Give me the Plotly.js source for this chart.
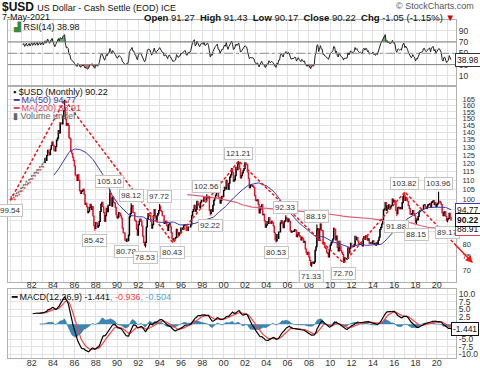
<!DOCTYPE html>
<html><head><meta charset="utf-8">
<script src="https://cdn.plot.ly/plotly-3.0.1.min.js"></script>
<style>html,body{margin:0;padding:0;background:#fff}#chart{width:480px;height:368px}</style>
</head><body><div id="chart"></div>
<script>
// ---------- DATA (monthly closes) ----------
const startYear = 1980;
const close1980s = [
 99.9,101.2,100.1,102.3,101.0,99.9,101.8,103.1,101.9,103.6,102.5,104.2,
 105.8,104.3,106.1,107.5,105.9,107.8,109.2,107.6,108.4,110.3,108.9,110.8,
 112.4,110.9,112.8,114.1,112.6,114.5,115.9,114.2,116.0,117.6,116.1,118.0,
 119.3,117.8,120.4,122.9,121.5,124.6,127.9,126.4,125.2,128.6,131.0,133.4,
 131.2,128.0,127.5,130.4,134.5,136.0,141.2,139.5,146.8,146.2,145.9,151.8,
 156.0,158.5,149.5,145.0,146.2,144.8,136.2,135.5,127.5,126.0,123.5,121.5,
 118.2,113.0,112.5,110.0,113.2,110.1,104.5,103.0,104.1,104.6,105.2,102.5,
 97.5,98.1,96.4,93.5,94.2,96.0,97.6,95.1,96.5,92.0,87.6,86.5,
 89.1,88.8,87.0,87.6,89.5,94.1,97.6,98.5,96.4,93.6,89.6,92.2,
 95.6,94.0,97.1,97.0,103.0,100.5,96.6,101.2,98.5,98.2,96.1,92.6];
const close1990s = [
 91.1,91.6,93.6,93.1,92.1,91.0,86.6,84.6,84.5,81.5,81.2,82.0,
 81.3,83.6,91.6,93.1,95.8,97.0,93.6,93.5,90.1,89.6,86.1,83.6,
 88.1,89.6,90.6,89.6,87.5,83.2,80.6,79.4,80.6,87.1,90.6,93.1,
 92.1,92.2,89.6,86.6,88.1,92.1,95.1,91.6,90.1,92.1,93.1,94.6,
 96.6,94.6,94.1,92.1,92.1,88.6,89.1,89.6,87.6,85.6,88.1,88.6,
 87.1,84.6,82.1,81.6,82.1,82.1,82.6,86.1,84.6,83.6,84.6,84.6,
 86.6,86.1,86.6,87.6,88.1,88.1,85.6,85.6,87.1,87.1,87.1,88.1,
 92.1,94.1,95.1,97.1,94.1,95.1,99.1,98.1,97.1,96.1,98.6,99.6,
 99.6,99.1,101.1,99.6,99.6,101.1,101.6,100.6,94.6,93.1,95.1,94.1,
 97.1,99.6,100.6,102.1,104.1,104.6,101.1,101.1,98.1,99.6,101.6,101.4];
const close2000s = [
 104.6,106.2,105.4,110.1,106.9,105.1,108.4,111.8,113.1,116.7,114.3,109.6,
 110.3,112.6,117.4,116.1,119.6,120.3,116.6,111.4,112.6,114.2,115.6,116.8,
 120.1,119.4,119.0,114.7,110.9,106.1,107.2,107.4,106.8,106.9,106.0,101.9,
 99.5,99.4,99.8,97.6,93.4,95.2,96.4,97.3,92.6,92.8,89.8,87.0,
 87.9,89.5,88.6,91.2,88.9,88.8,89.6,88.9,87.5,84.6,81.6,81.2,
 83.8,82.2,84.9,84.9,88.9,89.8,88.5,86.8,89.4,89.8,91.3,90.8,
 89.4,90.6,89.6,85.5,84.8,85.2,85.2,85.3,86.0,85.7,82.9,83.7,
 84.7,83.4,82.8,81.6,82.7,82.1,80.6,81.1,78.0,76.6,75.9,76.7,
 74.9,73.6,71.8,72.8,73.0,72.5,73.1,77.5,78.9,85.8,86.4,81.4,
 86.1,88.4,85.6,85.5,80.0,80.4,78.6,78.2,76.7,76.3,74.9,77.9];
const close2010s = [
 79.5,80.4,81.1,82.0,86.5,86.0,81.6,83.2,78.6,77.2,81.1,79.0,
 77.3,76.6,75.9,73.0,74.6,74.3,74.1,74.4,78.5,76.5,78.3,80.2,
 79.1,78.9,79.0,79.6,83.1,81.7,82.6,81.2,79.9,79.8,80.2,79.8,
 79.2,82.1,83.0,81.9,83.3,83.2,81.5,82.1,80.2,80.2,80.7,80.2,
 81.3,80.0,80.1,79.5,80.4,79.8,81.5,82.7,86.0,86.9,88.4,90.3,
 94.8,95.3,98.4,94.6,96.9,95.5,97.3,96.1,96.4,97.0,100.2,98.7,
 99.6,98.2,94.6,93.1,95.9,96.1,95.5,96.0,95.5,98.4,101.5,102.2,
 99.5,101.1,100.4,99.1,97.0,95.6,92.9,92.7,93.1,94.6,93.1,92.1,
 89.1,90.6,90.2,91.8,94.0,94.5,94.5,95.1,95.1,97.1,97.3,96.2,
 95.6,96.2,97.3,97.5,97.8,96.1,98.5,98.9,99.4,97.4,98.3,96.4];
const close2020s = [97.4,98.1,99.0,99.0,98.3,97.4,93.4,92.1,93.9,94.0,91.9,89.9,
 90.6,90.9,93.3,91.28,90.22];
const lastOpen = 91.27, lastHigh = 91.43, lastLow = 90.17;

// swing highs / lows labelled on the chart
const swingDates = ['1980-01','1985-02','1987-12','1989-05','1990-12','1991-05','1992-09','1994-01','1995-04',
  '1998-06','1998-10','2001-06','2004-12','2005-11','2008-04','2008-10','2011-04','2016-04','2017-01','2018-02','2020-03','2021-01'];
const swingVals = [99.54,164.72,85.42,105.10,80.78,98.12,78.53,97.72,80.43,
  102.56,92.22,121.21,80.53,92.33,71.33,88.19,72.70,91.88,103.82,88.15,103.96,89.17];
const swingSide = [-1,1,-1,1,-1,1,-1,1,-1, 1,-1,1,-1,1,-1,1,-1,-1,1,-1,1,-1];
const swingShow = [1,0,1,1,1,1,1,1,1, 1,1,1,1,1,1,1,1,1,1,1,1,1];

// red dashed zig-zag trend lines (last point = arrow head)
const trendDates = ['1980-01-01','1985-02-01','1995-04-01','2001-06-01','2011-04-01','2017-01-01','2023-05-20'];
const trendVals = [99.54,164.72,80.43,121.21,72.70,103.82,72.7];

const xTickYears = [1982,1984,1986,1988,1990,1992,1994,1996,1998,2000,2002,2004,2006,2008,2010,2012,2014,2016,2018,2020];
const priceTicks = [70,75,80,85,90,95,100,105,110,115,120,125,130,135,140,145,150,155,160,165];
const priceHidden = [85,90,95];           // labels covered by the value boxes
const rsiTicks = [10,30,50,70,90];
const macdTicks = [-10,-7.5,-5,-2.5,2.5,5,7.5,10];
const macdHidden = [-2.5];

// ---------- BUILD ----------
const closes = [].concat(close1980s, close1990s, close2000s, close2010s, close2020s);
const N = closes.length;
const dates = [];
for (let i = 0; i < N; i++) {
  const y = startYear + Math.floor(i / 12), m = i % 12 + 1;
  dates.push(y + '-' + String(m).padStart(2, '0') + '-01');
}
const idxOf = s => (parseInt(s.slice(0,4)) - startYear) * 12 + parseInt(s.slice(5,7)) - 1;
const opens = closes.map((c, i) => i === 0 ? c : closes[i - 1]);
opens[N - 1] = lastOpen;
const highs = closes.map((c, i) => Math.max(c, opens[i]));
const lows = closes.map((c, i) => Math.min(c, opens[i]));
highs[N - 1] = lastHigh; lows[N - 1] = lastLow;
swingDates.forEach((d, k) => {
  const i = idxOf(d);
  if (swingSide[k] > 0) highs[i] = Math.max(highs[i], swingVals[k]);
  else lows[i] = Math.min(lows[i], swingVals[k]);
});
const candleStart = idxOf('1983-04');

function sma(a, n) { return a.map((_, i) => { if (i < n - 1) return null; let s = 0; for (let j = i - n + 1; j <= i; j++) s += a[j]; return s / n; }); }
function ema(a, n, st) {
  const out = a.map(() => null); let s = 0;
  for (let i = st; i < st + n; i++) s += a[i];
  let e = s / n; out[st + n - 1] = e; const k = 2 / (n + 1);
  for (let i = st + n; i < a.length; i++) { e = a[i] * k + e * (1 - k); out[i] = e; }
  return out;
}
function rsiCalc(c, n) {
  const out = c.map(() => null); let g = 0, l = 0;
  for (let i = 1; i <= n; i++) { const d = c[i] - c[i - 1]; if (d > 0) g += d; else l -= d; }
  g /= n; l /= n; out[n] = 100 - 100 / (1 + g / l);
  for (let i = n + 1; i < c.length; i++) {
    const d = c[i] - c[i - 1];
    g = (g * (n - 1) + Math.max(d, 0)) / n; l = (l * (n - 1) + Math.max(-d, 0)) / n;
    out[i] = 100 - 100 / (1 + g / l);
  }
  return out;
}
const ma50 = sma(closes, 50), ma200 = sma(closes, 200);
const e12 = ema(closes, 12, 0), e26 = ema(closes, 26, 0);
const macd = closes.map((c, i) => e26[i] == null ? null : e12[i] - e26[i]);
const sig = ema(macd, 9, 25);
const hist = macd.map((m, i) => sig[i] == null ? null : m - sig[i]);
const rsi = rsiCalc(closes, 14);
const rI = rsi.map((v, i) => v == null ? -1 : i).filter(i => i >= 0);
const rX = rI.map(i => dates[i]);

const traces = [];
// RSI shading
traces.push({x: rX, y: rX.map(() => 70), xaxis: 'x', yaxis: 'y', mode: 'lines', line: {width: 0}, hoverinfo: 'skip'});
traces.push({x: rX, y: rI.map(i => Math.max(rsi[i], 70)), xaxis: 'x', yaxis: 'y', mode: 'lines', line: {width: 0}, fill: 'tonexty', fillcolor: 'rgba(60,140,60,0.75)', hoverinfo: 'skip'});
traces.push({x: rX, y: rX.map(() => 30), xaxis: 'x', yaxis: 'y', mode: 'lines', line: {width: 0}, hoverinfo: 'skip'});
traces.push({x: rX, y: rI.map(i => Math.min(rsi[i], 30)), xaxis: 'x', yaxis: 'y', mode: 'lines', line: {width: 0}, fill: 'tonexty', fillcolor: 'rgba(190,70,70,0.75)', hoverinfo: 'skip'});
traces.push({x: rX, y: rI.map(i => rsi[i]), xaxis: 'x', yaxis: 'y', mode: 'lines', line: {color: '#222', width: 1}, hoverinfo: 'skip'});

// price: early dotted section
const early = [...Array(candleStart).keys()];
traces.push({x: early.map(i => dates[i]), y: early.map(i => closes[i]), xaxis: 'x2', yaxis: 'y2', mode: 'markers',
  marker: {size: 2, color: early.map(i => closes[i] >= opens[i] ? '#555' : '#e33'), opacity: 0.8}, hoverinfo: 'skip'});
const cI = [...Array(N - candleStart).keys()].map(k => k + candleStart);
traces.push({type: 'candlestick', x: cI.map(i => dates[i]), open: cI.map(i => opens[i]), high: cI.map(i => highs[i]),
  low: cI.map(i => lows[i]), close: cI.map(i => closes[i]), xaxis: 'x2', yaxis: 'y2',
  increasing: {line: {color: '#000', width: 1.1}, fillcolor: '#000'},
  decreasing: {line: {color: '#e8142e', width: 1.1}, fillcolor: '#e8142e'}, whiskerwidth: 0, hoverinfo: 'skip'});
const mI = (arr) => arr.map((v, i) => v == null ? -1 : i).filter(i => i >= 0);
const m50 = mI(ma50), m200 = mI(ma200);
traces.push({x: m200.map(i => dates[i]), y: m200.map(i => ma200[i]), xaxis: 'x2', yaxis: 'y2', mode: 'lines', line: {color: '#e0607a', width: 1.2}, hoverinfo: 'skip'});
traces.push({x: m50.map(i => dates[i]), y: m50.map(i => ma50[i]), xaxis: 'x2', yaxis: 'y2', mode: 'lines', line: {color: '#3a3aaa', width: 1}, hoverinfo: 'skip'});
traces.push({x: trendDates, y: trendVals, xaxis: 'x2', yaxis: 'y2', mode: 'lines', line: {color: '#ff1010', width: 1.5, dash: '3px,2px'}, hoverinfo: 'skip'});

// MACD
const hI = mI(hist), mcI = mI(macd), sI = mI(sig);
traces.push({x: hI.map(i => dates[i]), y: hI.map(i => hist[i]), xaxis: 'x3', yaxis: 'y3', mode: 'lines', line: {color: '#2d6f95', width: 0.6}, fill: 'tozeroy', fillcolor: '#3a86b4', hoverinfo: 'skip'});
traces.push({x: sI.map(i => dates[i]), y: sI.map(i => sig[i]), xaxis: 'x3', yaxis: 'y3', mode: 'lines', line: {color: '#ff4040', width: 1.2}, hoverinfo: 'skip'});
traces.push({x: mcI.map(i => dates[i]), y: mcI.map(i => macd[i]), xaxis: 'x3', yaxis: 'y3', mode: 'lines', line: {color: '#000', width: 1.2}, hoverinfo: 'skip'});

// ---------- LAYOUT ----------
const F = 'Liberation Sans, Arial, sans-serif';
const gridC = '#e2e2e2', lineC = '#b0b0b0';
const xr = ['1979-10-10', '2021-10-19'];
const xTickVals = xTickYears.map(y => y + '-01-01');
const xTickText = xTickYears.map(y => String(y).slice(2));
const baseX = {type: 'date', range: xr, showgrid: true, gridcolor: gridC, tickmode: 'array', tickvals: xTickVals, ticktext: xTickText,
  showline: true, mirror: true, linecolor: lineC, ticks: '', tickfont: {size: 9, color: '#333', family: F},
  minor: {dtick: 'M12', tick0: '1981-01-01', showgrid: true, gridcolor: gridC}, zeroline: false, fixedrange: true, automargin: false};
const baseY = {side: 'right', showgrid: true, gridcolor: gridC, showline: true, mirror: true, linecolor: lineC, zeroline: false,
  ticks: '', tickfont: {size: 8.5, color: '#333', family: F}, fixedrange: true, automargin: false};

const ann = [];
const P = (px) => (px - 8) / 448, Q = (py) => (358 - py) / 338;
ann.push({xref: 'paper', yref: 'paper', x: P(0), y: Q(7), xanchor: 'left', yanchor: 'middle', showarrow: false,
  text: '<b>$USD</b> <span style="font-size:9px">US Dollar - Cash Settle (EOD) ICE</span>', font: {size: 12, color: '#111', family: F}});
ann.push({xref: 'paper', yref: 'paper', x: P(0), y: Q(17.5), xanchor: 'left', yanchor: 'middle', showarrow: false,
  text: '7-May-2021', font: {size: 9, color: '#111', family: F}});
ann.push({xref: 'paper', yref: 'paper', x: P(476), y: Q(6), xanchor: 'right', yanchor: 'middle', showarrow: false,
  text: '© StockCharts.com', font: {size: 9, color: '#555', family: F}});
ann.push({xref: 'paper', yref: 'paper', x: P(457), y: Q(17.5), xanchor: 'right', yanchor: 'middle', showarrow: false,
  text: '<b>Open</b> 91.27&nbsp;&nbsp;<b>High</b> 91.43&nbsp;&nbsp;<b>Low</b> 90.17&nbsp;&nbsp;<b>Close</b> 90.22&nbsp;&nbsp;<b>Chg</b> -1.05 (-1.15%) <span style="color:#d00">▼</span>',
  font: {size: 9.5, color: '#111', family: F}});
ann.push({xref: 'paper', yref: 'paper', x: P(11), y: Q(27), xanchor: 'left', yanchor: 'middle', showarrow: false,
  text: '<span style="color:#3a8a3a">▟</span> RSI(14) 38.98', font: {size: 9, color: '#111', family: F}});
ann.push({xref: 'paper', yref: 'paper', x: P(11), y: Q(91.5), xanchor: 'left', yanchor: 'middle', showarrow: false,
  text: '▪ $USD (Monthly) 90.22', font: {size: 9, color: '#111', family: F}});
ann.push({xref: 'paper', yref: 'paper', x: P(11), y: Q(100), xanchor: 'left', yanchor: 'middle', showarrow: false,
  text: '<b>━</b> MA(50) 94.77', font: {size: 9, color: '#3a3aaa', family: F}});
ann.push({xref: 'paper', yref: 'paper', x: P(11), y: Q(108), xanchor: 'left', yanchor: 'middle', showarrow: false,
  text: '<b>━</b> MA(200) 88.91', font: {size: 9, color: '#e0405a', family: F}});
ann.push({xref: 'paper', yref: 'paper', x: P(11), y: Q(116), xanchor: 'left', yanchor: 'middle', showarrow: false,
  text: '▮ Volume undef', font: {size: 9, color: '#666', family: F}});
ann.push({xref: 'paper', yref: 'paper', x: P(9), y: Q(296.5), xanchor: 'left', yanchor: 'middle', showarrow: false,
  text: '<b>━</b> MACD(12,26,9) -1.441<span style="color:#ff4040">, -0.936</span><span style="color:#4aa8dc">, -0.504</span>',
  font: {size: 9, color: '#111', family: F}});

// swing labels
swingDates.forEach((d, k) => {
  if (!swingShow[k]) return;
  ann.push({xref: 'x2', yref: 'y2', x: d + '-01', y: Math.log10(swingVals[k]), text: swingVals[k].toFixed(2), showarrow: false,
    yshift: swingSide[k] > 0 ? 8 : -10, font: {size: 8, color: '#333', family: F}, bgcolor: '#fff', bordercolor: '#c4c4c4', borderwidth: 1, borderpad: 1});
});
// arrow head of the last trend line
const nT = trendDates.length;
const t5 = Date.parse(trendDates[nT - 2]), t6 = Date.parse(trendDates[nT - 1]), tt = Date.parse('2021-09-01');
const f = (tt - t5) / (t6 - t5);
const tailV = Math.exp(Math.log(trendVals[nT - 2]) + f * (Math.log(trendVals[nT - 1]) - Math.log(trendVals[nT - 2])));
ann.push({xref: 'x2', yref: 'y2', x: trendDates[nT - 1], y: Math.log10(trendVals[nT - 1]), axref: 'x2', ayref: 'y2',
  ax: '2021-09-01', ay: Math.log10(tailV), text: '', showarrow: true, arrowhead: 2, arrowsize: 1, arrowwidth: 1.5, arrowcolor: '#ff1010', standoff: 0});

// value boxes on the right
const box = (yref, y, txt, col, shift, bold, px) => ann.push({xref: 'paper', yref: yref, x: P(px || 455), y: y, xanchor: 'left', yanchor: 'middle',
  yshift: shift || 0, showarrow: false, text: bold ? '<b>' + txt + '</b>' : txt, font: {size: 8.5, color: '#111', family: F},
  bgcolor: '#fff', bordercolor: col, borderwidth: 1, borderpad: 1});
box('y', 38.98, '38.98', '#333');
box('y2', Math.log10(94.77), '94.77', '#3a3aaa');
box('y2', Math.log10(88.91), '88.91', '#e0405a', -6);
box('y2', Math.log10(90.22), '90.22', '#111', 0, true);
box('y3', -1.441, '-1.441', '#111', 0, false, 451);

const layout = {
  width: 480, height: 368, margin: {l: 8, r: 24, t: 20, b: 10}, paper_bgcolor: '#fff', plot_bgcolor: '#fff',
  showlegend: false, font: {family: F, size: 9, color: '#222'},
  xaxis: Object.assign({}, baseX, {anchor: 'y', showticklabels: false}),
  xaxis2: Object.assign({}, baseX, {anchor: 'y2', matches: 'x', rangeslider: {visible: false}, ticklabelstandoff: -6}),
  xaxis3: Object.assign({}, baseX, {anchor: 'y3', matches: 'x', ticklabelstandoff: -4}),
  yaxis: Object.assign({}, baseY, {domain: [0.8077, 1], range: [-6, 108.8], tickvals: rsiTicks, ticktext: rsiTicks.map(String)}),
  yaxis2: Object.assign({}, baseY, {domain: [0.2249, 0.8018], type: 'log', range: [Math.log10(66.1), Math.log10(175.7)],
    tickvals: priceTicks, ticktext: priceTicks.map(v => priceHidden.includes(v) ? '' : String(v)), ticklabelstandoff: 4,
    tickfont: {size: 7.5, color: '#333', family: F}}),
  yaxis3: Object.assign({}, baseY, {domain: [0, 0.2041], range: [-11.3, 11.8], tickvals: macdTicks,
    ticktext: macdTicks.map(v => macdHidden.includes(v) ? '' : v.toFixed(1))}),
  shapes: [
    {type: 'line', xref: 'paper', yref: 'y', x0: 0, x1: 1, y0: 70, y1: 70, line: {color: '#808080', width: 1}},
    {type: 'line', xref: 'paper', yref: 'y', x0: 0, x1: 1, y0: 30, y1: 30, line: {color: '#808080', width: 1}},
    {type: 'line', xref: 'paper', yref: 'y', x0: 0, x1: 1, y0: 50, y1: 50, line: {color: '#909090', width: 1, dash: 'dashdot'}}
  ],
  annotations: ann
};
Plotly.newPlot('chart', traces, layout, {staticPlot: true, displayModeBar: false});
</script></body></html>
